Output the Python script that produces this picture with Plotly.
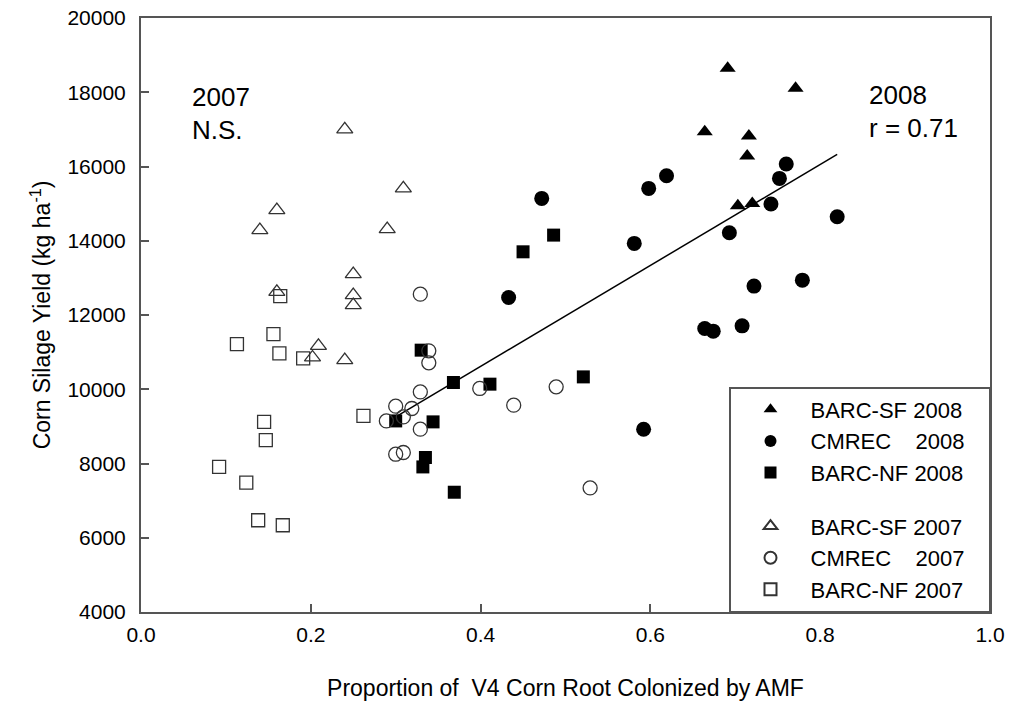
import numpy as np
import plotly.graph_objects as go

# ---- data ----
sf08_x = [0.691, 0.771, 0.664, 0.716, 0.714, 0.703, 0.720]
sf08_y = [18645, 18106, 16936, 16820, 16281, 14942, 15006]

cm08_x = [0.472, 0.598, 0.619, 0.760, 0.752, 0.742, 0.820, 0.693, 0.581, 0.433,
          0.722, 0.779, 0.664, 0.674, 0.708, 0.592]
cm08_y = [15141, 15410, 15750, 16066, 15680, 14988, 14645, 14214, 13928, 12473,
          12778, 12939, 11638, 11565, 11708, 8924]

nf08_x = [0.450, 0.486, 0.330, 0.368, 0.411, 0.521, 0.344, 0.300, 0.335, 0.332, 0.369]
nf08_y = [13702, 14152, 11053, 10182, 10137, 10333, 9121, 9147, 8161, 7908, 7226]

sf07_x = [0.240, 0.309, 0.160, 0.140, 0.290, 0.250, 0.250, 0.250, 0.160, 0.209, 0.202, 0.240]
sf07_y = [17001, 15410, 14826, 14287, 14313, 13101, 12535, 12266, 12624, 11169, 10856, 10783]

cm07_x = [0.329, 0.339, 0.339, 0.329, 0.399, 0.489, 0.439, 0.300, 0.319, 0.309,
          0.289, 0.329, 0.309, 0.300, 0.529]
cm07_y = [12562, 11034, 10711, 9929, 10021, 10064, 9571, 9544, 9482, 9255,
          9147, 8924, 8296, 8250, 7342]

nf07_x = [0.164, 0.113, 0.156, 0.163, 0.191, 0.262, 0.145, 0.147, 0.092, 0.124, 0.138, 0.167]
nf07_y = [12508, 11215, 11484, 10964, 10829, 9282, 9121, 8627, 7908, 7487, 6471, 6337]

x_ticks = [0.0, 0.2, 0.4, 0.6, 0.8, 1.0]
y_ticks = [4000, 6000, 8000, 10000, 12000, 14000, 16000, 18000, 20000]

FONT = "Liberation Sans, Arial, sans-serif"
AX = "#555555"
OPEN = "#333333"
PAD = "\u00a0\u00a0\u00a0"

fig = go.Figure()

# regression on 2008 data
x08 = np.array(sf08_x + cm08_x + nf08_x)
y08 = np.array(sf08_y + cm08_y + nf08_y)
slope, icpt = np.polyfit(x08, y08, 1)
fx = np.array([x08.min(), x08.max()])
fig.add_trace(go.Scatter(x=fx, y=slope * fx + icpt, mode="lines",
                         line=dict(color="black", width=1.5),
                         showlegend=False, hoverinfo="skip"))

def add(xs, ys, name, symbol, size, filled, group):
    if filled:
        m = dict(symbol=symbol, size=size, color="black", line=dict(width=0))
    else:
        m = dict(symbol=symbol + "-open", size=size, color=OPEN, line=dict(width=1.3, color=OPEN))
    fig.add_trace(go.Scatter(x=xs, y=ys, mode="markers", name=name + PAD, marker=m,
                             legendgroup=group))

add(sf08_x, sf08_y, "BARC-SF 2008", "triangle-up", 14, True, "g08")
add(cm08_x, cm08_y, "CMREC    2008", "circle", 15, True, "g08")
add(nf08_x, nf08_y, "BARC-NF 2008", "square", 13, True, "g08")
add(sf07_x, sf07_y, "BARC-SF 2007", "triangle-up", 14, False, "g07")
add(cm07_x, cm07_y, "CMREC    2007", "circle", 14, False, "g07")
add(nf07_x, nf07_y, "BARC-NF 2007", "square", 13, False, "g07")

axis_common = dict(showline=True, linecolor=AX, linewidth=2, mirror=True,
                   ticks="inside", ticklen=8, tickwidth=1.5, tickcolor=AX,
                   showgrid=False, zeroline=False, automargin=False,
                   ticklabeloverflow="allow",
                   tickfont=dict(family=FONT, size=21, color="black"))

fig.update_xaxes(range=[0, 1], tickvals=x_ticks, ticktext=[f"{v:.1f}" for v in x_ticks],
                 title=dict(text="Proportion of  V4 Corn Root Colonized by AMF",
                            font=dict(family=FONT, size=23, color="black"), standoff=35),
                 ticklabelstandoff=3, **axis_common)
fig.update_yaxes(range=[4000, 20000], tickvals=y_ticks, ticktext=[str(v) for v in y_ticks],
                 title=dict(text="Corn Silage Yield (kg ha<sup>-1</sup>)",
                            font=dict(family=FONT, size=23, color="black"), standoff=10),
                 ticklabelstandoff=9, **axis_common)

ann_font = dict(family=FONT, size=26, color="black")
for txt, x, y in [("2007", 0.058, 17880), ("N.S.", 0.058, 16990),
                  ("2008", 0.855, 17925), ("r = 0.71", 0.855, 17033)]:
    fig.add_annotation(x=x, y=y, text=txt, showarrow=False, xanchor="left",
                       yanchor="middle", font=ann_font)

fig.update_layout(
    width=1011, height=709,
    margin=dict(l=141, r=21, t=18, b=97),
    paper_bgcolor="white", plot_bgcolor="white",
    font=dict(family=FONT, color="black"),
    legend=dict(x=1, y=0, xanchor="right", yanchor="bottom",
                bordercolor=AX, borderwidth=1.5, bgcolor="white",
                font=dict(family=FONT, size=22, color="black"),
                itemsizing="constant", itemwidth=70,
                traceorder="grouped", tracegroupgap=22),
)

# remove the default page margin so the figure fills the window exactly
fig.write_html("out.html",
               config={"displayModeBar": False},
               post_script="document.body.style.margin='0';document.body.style.overflow='hidden';")
